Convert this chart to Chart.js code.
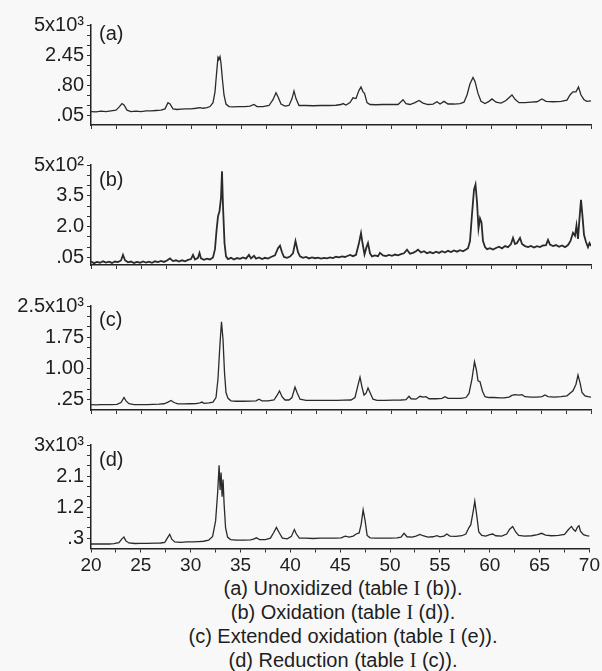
<!DOCTYPE html>
<html>
<head>
<meta charset="utf-8">
<script src="https://cdn.jsdelivr.net/npm/chart.js@4.4.0/dist/chart.umd.min.js"></script>
<style>
  body{margin:0;background:#f8f8f8;}
  #wrap{position:relative;width:602px;height:671px;overflow:hidden;}
  canvas{position:absolute;left:0;}
  #caption{position:absolute;left:143px;width:400px;top:576px;text-align:center;
    font:20px "Liberation Sans",Arial,sans-serif;line-height:24px;color:#1e1e1e;}
  .rn{font-family:"Liberation Serif",serif;}
</style>
</head>
<body>
<div id="wrap">
  <canvas id="pa" width="602" height="140" style="top:0px"></canvas>
  <canvas id="pb" width="602" height="140" style="top:140px"></canvas>
  <canvas id="pc" width="602" height="145" style="top:280px"></canvas>
  <canvas id="pd" width="602" height="150" style="top:425px"></canvas>
  <div id="caption">
    (a) Unoxidized (table <span class="rn">I</span> (b)).<br>
    (b) Oxidation (table <span class="rn">I</span> (d)).<br>
    (c) Extended oxidation (table <span class="rn">I</span> (e)).<br>
    (d) Reduction (table <span class="rn">I</span> (c)).
  </div>
</div>
<script>
// x axis: 2-theta (deg)
const xTicks = [20,22.5,25,27.5,30,32.5,35,37.5,40,42.5,45,47.5,50,52.5,55,57.5,60,62.5,65,67.5,70];

// (a) unoxidized, intensity x10^3 (square-root axis)
const twoTheta_a = [20.0,20.5,21.0,21.5,22.0,22.5,22.8,23.1,23.3,23.6,24.0,24.5,25.0,25.5,26.0,26.5,27.0,27.4,27.7,27.9,28.2,28.6,29.0,29.5,30.0,30.5,30.9,31.2,31.6,31.9,32.2,32.4,32.55,32.7,32.8,32.9,33.0,33.15,33.3,33.5,33.8,34.2,34.8,35.4,35.9,36.3,36.6,37.2,37.8,38.2,38.5,38.7,39.0,39.4,39.8,40.1,40.3,40.5,40.8,41.5,42.2,43.0,43.8,44.5,45.0,45.2,45.5,45.9,46.2,46.5,46.8,47.0,47.2,47.35,47.6,47.9,48.5,49.2,50.0,50.7,51.0,51.2,51.5,51.9,52.4,52.8,53.2,53.7,54.2,54.6,54.9,55.3,55.7,56.3,56.9,57.3,57.6,57.9,58.2,58.4,58.7,59.0,59.4,59.8,60.1,60.5,61.0,61.5,61.9,62.1,62.4,62.8,63.4,64.0,64.6,65.1,65.5,66.2,67.0,67.6,67.9,68.2,68.5,68.75,69.0,69.3,69.6,70.0];
const counts_a = [.09,.085,.095,.09,.10,.11,.16,.23,.20,.11,.09,.095,.09,.10,.10,.105,.11,.13,.25,.22,.13,.12,.125,.13,.13,.14,.15,.14,.15,.17,.25,.55,1.3,2.3,2.2,2.35,1.9,1.0,.45,.22,.17,.165,.17,.17,.18,.21,.17,.17,.19,.32,.52,.40,.22,.18,.19,.35,.58,.35,.19,.19,.185,.19,.19,.195,.21,.23,.20,.25,.37,.35,.60,.72,.55,.50,.25,.21,.205,.21,.21,.21,.27,.32,.23,.21,.25,.30,.24,.21,.22,.27,.22,.28,.22,.22,.23,.26,.45,.85,1.13,.95,.50,.28,.23,.28,.34,.26,.24,.30,.40,.45,.33,.25,.25,.26,.27,.34,.28,.27,.28,.31,.45,.55,.55,.72,.45,.32,.28,.29];
const tickLabels_a = ['.05','.80','2.45','5x10³'];

// (b) oxidation, intensity x10^2
const twoTheta_b = [20.0,20.3,20.6,20.9,21.2,21.5,21.8,22.1,22.4,22.7,23.0,23.2,23.4,23.7,24.0,24.3,24.6,24.9,25.2,25.5,25.8,26.1,26.4,26.7,27.0,27.3,27.6,27.9,28.2,28.5,28.8,29.1,29.4,29.7,30.0,30.2,30.4,30.7,30.85,31.0,31.3,31.6,31.9,32.2,32.4,32.55,32.7,32.85,33.0,33.1,33.2,33.35,33.5,33.7,34.0,34.3,34.6,34.9,35.2,35.5,35.8,36.0,36.3,36.5,36.8,37.1,37.4,37.7,38.0,38.4,38.7,38.9,39.1,39.3,39.6,39.9,40.2,40.45,40.7,40.9,41.2,41.5,41.8,42.1,42.4,42.7,43.0,43.3,43.6,43.9,44.2,44.5,44.8,45.1,45.4,45.7,45.9,46.2,46.5,46.8,47.0,47.15,47.35,47.55,47.7,47.9,48.1,48.4,48.7,48.9,49.2,49.5,49.8,50.1,50.4,50.7,51.0,51.3,51.6,51.9,52.2,52.5,52.7,53.0,53.3,53.6,53.9,54.2,54.5,54.8,55.1,55.4,55.7,56.0,56.3,56.6,56.9,57.2,57.5,57.7,57.9,58.1,58.3,58.45,58.6,58.75,58.9,59.05,59.2,59.4,59.6,59.9,60.2,60.5,60.8,61.1,61.4,61.7,62.0,62.2,62.4,62.6,62.9,63.1,63.4,63.7,64.0,64.3,64.6,64.9,65.2,65.5,65.7,65.9,66.2,66.5,66.8,67.1,67.4,67.7,67.95,68.2,68.4,68.55,68.7,68.85,69.0,69.15,69.3,69.5,69.7,69.85,70.0];
const counts_b = [.30,.22,.28,.24,.31,.25,.29,.23,.30,.27,.35,.62,.36,.26,.30,.23,.28,.24,.30,.25,.29,.24,.31,.27,.33,.28,.35,.45,.32,.36,.30,.36,.31,.38,.42,.62,.40,.48,.72,.45,.38,.44,.40,.50,.90,1.8,2.5,2.75,3.4,4.7,3.0,1.2,.55,.42,.48,.40,.47,.43,.50,.44,.62,.45,.58,.44,.50,.42,.48,.44,.52,.60,.95,1.07,.75,.52,.48,.54,.70,1.3,.75,.55,.48,.52,.45,.50,.46,.49,.44,.48,.45,.50,.47,.53,.50,.55,.52,.58,.62,.56,.62,1.2,1.68,1.2,.65,1.0,1.2,.70,.55,.60,.56,.72,.60,.56,.62,.58,.64,.60,.66,.70,.88,.68,.72,.80,.88,.74,.80,.70,.76,.70,.78,.72,.80,.74,.82,.76,.84,.78,.85,.80,.88,.95,1.3,2.6,3.8,4.05,3.2,1.9,2.4,2.2,1.3,1.0,.90,.95,.88,.96,1.02,.94,1.05,1.0,1.15,1.45,1.15,1.2,1.45,1.15,1.05,1.0,1.06,.98,1.05,1.0,1.08,1.1,1.35,1.12,1.05,1.1,1.02,1.08,1.0,1.1,1.3,1.7,1.55,2.05,1.4,2.4,3.3,2.5,1.6,1.25,1.0,1.2,1.05];
const tickLabels_b = ['.05','2.0','3.5','5x10²'];

// (c) extended oxidation, intensity x10^3
const twoTheta_c = [20.0,20.5,21.0,21.5,22.0,22.6,23.0,23.3,23.5,23.8,24.3,25.0,25.6,26.2,26.8,27.3,27.7,28.0,28.3,28.7,29.3,29.9,30.5,30.9,31.1,31.3,31.8,32.2,32.5,32.7,32.9,33.05,33.2,33.35,33.5,33.7,34.0,34.5,35.2,35.9,36.5,36.8,37.1,37.7,38.3,38.6,38.85,39.1,39.4,39.8,40.1,40.4,40.6,40.9,41.5,42.3,43.0,43.8,44.6,45.3,46.0,46.4,46.7,46.9,47.1,47.3,47.5,47.7,47.9,48.2,48.6,49.4,50.2,51.0,51.5,51.8,52.0,52.5,52.9,53.2,53.5,53.8,54.5,55.1,55.4,55.7,56.4,57.0,57.5,57.8,58.1,58.35,58.55,58.7,58.9,59.15,59.4,59.8,60.3,60.9,61.3,61.8,62.1,62.4,62.8,63.1,63.4,64.0,64.6,65.1,65.4,65.7,66.3,67.0,67.6,67.9,68.2,68.5,68.7,68.9,69.1,69.4,69.7,70.0];
const counts_c = [.13,.125,.13,.13,.13,.135,.18,.30,.22,.15,.13,.13,.13,.135,.14,.15,.19,.23,.18,.145,.145,.15,.155,.17,.19,.16,.17,.19,.30,.75,1.6,2.12,1.7,.9,.42,.28,.22,.21,.21,.215,.22,.26,.22,.22,.24,.35,.46,.32,.24,.24,.30,.55,.42,.26,.23,.23,.23,.23,.23,.235,.24,.30,.60,.79,.55,.36,.40,.53,.42,.26,.23,.23,.235,.24,.25,.33,.27,.26,.33,.31,.32,.27,.27,.28,.32,.28,.28,.28,.30,.40,.75,1.16,.95,.70,.68,.45,.32,.30,.30,.29,.29,.31,.35,.37,.36,.37,.32,.31,.31,.32,.36,.32,.31,.32,.34,.40,.46,.62,.84,.66,.42,.34,.32,.31];
const tickLabels_c = ['.25','1.00','1.75','2.5x10³'];

// (d) reduction, intensity x10^3
const twoTheta_d = [20.0,20.6,21.2,21.8,22.3,22.8,23.1,23.3,23.5,23.8,24.4,25.0,25.7,26.4,27.0,27.4,27.7,27.9,28.1,28.4,29.0,29.6,30.2,30.8,31.3,31.8,32.2,32.5,32.7,32.85,32.95,33.05,33.15,33.25,33.35,33.5,33.7,34.0,34.6,35.3,36.0,36.3,36.6,36.9,37.5,38.0,38.3,38.6,38.9,39.2,39.7,40.1,40.4,40.6,40.9,41.5,42.3,43.0,43.8,44.5,45.1,45.5,45.9,46.3,46.6,46.9,47.1,47.3,47.5,47.7,48.0,48.6,49.3,50.0,50.7,51.1,51.4,51.7,52.2,52.6,53.0,53.3,53.8,54.3,54.7,55.0,55.4,55.7,56.0,56.6,57.2,57.6,57.9,58.1,58.35,58.5,58.7,58.9,59.2,59.6,60.0,60.3,60.6,61.2,61.7,62.0,62.3,62.6,62.9,63.5,64.2,64.8,65.2,65.6,66.2,66.9,67.5,67.9,68.2,68.4,68.6,68.8,68.95,69.1,69.4,69.7,70.0];
const counts_d = [.13,.13,.135,.13,.14,.17,.28,.33,.22,.16,.145,.15,.15,.155,.16,.18,.32,.41,.27,.19,.18,.19,.19,.20,.21,.24,.35,.8,1.6,2.41,1.7,2.2,1.5,2.0,1.3,.6,.33,.26,.24,.245,.25,.27,.31,.26,.26,.30,.45,.61,.45,.30,.28,.35,.55,.42,.30,.30,.29,.30,.30,.30,.31,.36,.33,.36,.42,.45,.70,1.12,.80,.38,.31,.30,.30,.30,.31,.33,.44,.34,.33,.36,.41,.37,.33,.34,.37,.34,.36,.42,.36,.35,.37,.42,.60,.69,1.1,1.37,.95,.48,.38,.36,.40,.42,.37,.36,.42,.56,.64,.48,.38,.36,.37,.40,.44,.39,.37,.38,.41,.55,.64,.55,.50,.62,.66,.50,.40,.37,.36];
const tickLabels_d = ['.3','1.2','2.1','3x10³'];

const FONT = 'Liberation Sans';
const INK = '#1e1e1e';

function makePanel(id, xs, ys, p){
  const pts = xs.map((x, i) => ({x: x, y: p.sqrt ? Math.sqrt(ys[i]) : ys[i]}));
  // 10 ticks evenly spaced, a labelled one every third
  const yTickPos = [];
  for (let k = 1; k <= 10; k++) yTickPos.push(k * p.step);

  const letter = {
    id: 'letter' + id,
    afterDraw(chart){
      const c = chart.ctx;
      c.save();
      c.font = '20px ' + FONT;
      c.fillStyle = INK;
      c.textBaseline = 'middle';
      c.fillText(p.letter, 99, p.letterY);
      c.restore();
    }
  };

  new Chart(document.getElementById(id), {
    type: 'line',
    data: {datasets: [{data: pts, borderColor: '#2a2a2a', borderWidth: p.lw, pointRadius: 0, tension: 0, fill: false}]},
    options: {
      responsive: false,
      animation: false,
      parsing: false,
      layout: {padding: {left: 0, right: 11, top: p.padTop, bottom: 0}},
      plugins: {legend: {display: false}, tooltip: {enabled: false}},
      scales: {
        x: {
          type: 'linear', min: 20, max: 70,
          afterBuildTicks: s => { s.ticks = xTicks.map(v => ({value: v})); },
          afterFit: s => { s.height = p.xh; },
          ticks: {
            autoSkip: false, maxRotation: 0, padding: 2, color: INK,
            font: {family: FONT, size: 19},
            callback: v => (p.xLabels && v % 5 === 0) ? String(v) : ''
          },
          grid: {drawOnChartArea: false, drawTicks: true, tickLength: 4, color: '#333'},
          border: {display: true, color: '#222', width: 1.5}
        },
        y: {
          type: 'linear', min: p.min, max: p.max,
          afterBuildTicks: s => { s.ticks = yTickPos.map(v => ({value: v})); },
          afterFit: s => { s.width = 91; },
          ticks: {
            autoSkip: false, padding: 3, color: INK,
            font: {family: FONT, size: 20},
            callback: (v, i) => (i % 3 === 0) ? p.labels[i / 3] : ''
          },
          grid: {drawOnChartArea: false, drawTicks: true, tickLength: 4, color: '#333'},
          border: {display: true, color: '#222', width: 1.5}
        }
      }
    },
    plugins: [letter]
  });
}

makePanel('pa', twoTheta_a, counts_a, {sqrt: true, step: Math.sqrt(0.05), min: 0, max: Math.sqrt(5),
  labels: tickLabels_a, padTop: 25, xh: 12, letter: '(a)', letterY: 34.5, lw: 1.3, xLabels: false});
makePanel('pb', twoTheta_b, counts_b, {sqrt: false, step: 0.5, min: 0.13, max: 5,
  labels: tickLabels_b, padTop: 25, xh: 11, letter: '(b)', letterY: 40, lw: 1.8, xLabels: false});
makePanel('pc', twoTheta_c, counts_c, {sqrt: false, step: 0.25, min: 0, max: 2.5,
  labels: tickLabels_c, padTop: 26, xh: 12.5, letter: '(c)', letterY: 40, lw: 1.3, xLabels: false});
makePanel('pd', twoTheta_d, counts_d, {sqrt: false, step: 0.3, min: 0, max: 3,
  labels: tickLabels_d, padTop: 20, xh: 26.5, letter: '(d)', letterY: 35, lw: 1.3, xLabels: true});
</script>
</body>
</html>
